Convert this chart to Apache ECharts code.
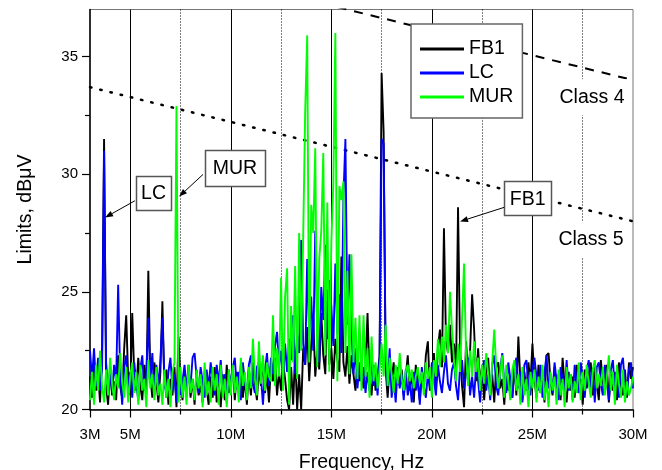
<!DOCTYPE html>
<html>
<head>
<meta charset="utf-8">
<script src="https://cdn.jsdelivr.net/npm/echarts@6.0.0/dist/echarts.min.js"></script>
<style>
html, body { margin: 0; padding: 0; background: #fff; }
#chart { width: 662px; height: 470px; }
</style>
</head>
<body>
<div id="chart"></div>
<script>
// Spectrum sampling grid (MHz)
const FREQ_START = 3.0;
const FREQ_STEP = 0.1;

// Measured emission levels, dBuV, one value per 0.1 MHz from 3.0 to 30.0 MHz
const fb1 = [
  21.4, 20.5, 22.0, 20.8, 21.6, 20.3, 22.4, 31.5, 21.0, 20.2,
  21.8, 20.6, 21.2, 20.4, 22.3, 21.0, 20.5, 22.6, 24.0, 21.3,
  20.6, 24.1, 21.5, 20.8, 22.2, 21.0, 20.4, 21.9, 20.7, 25.9,
  21.4, 20.5, 22.0, 21.2, 20.3, 21.6, 24.6, 20.9, 21.7, 20.2,
  21.3, 20.6, 21.8, 20.1, 23.1, 21.2, 20.4, 21.5, 20.8, 21.9,
  20.5, 21.3, 20.2, 21.7, 20.6, 21.0, 20.3, 21.6, 20.9, 20.2,
  21.4, 20.5, 21.8, 20.3, 21.1, 20.1, 21.5, 20.4, 21.9, 20.7,
  21.2, 21.8, 20.4, 21.6, 20.8, 21.9, 20.5, 21.3, 20.2, 21.7,
  20.6, 22.0, 21.1, 20.4, 21.8, 21.0, 22.1, 20.7, 21.5, 20.3,
  21.9, 21.2, 22.2, 20.6, 21.6, 20.8, 22.0, 21.3, 20.4, 20.0,
  21.8, 20.2, 22.4, 20.0, 21.5, 20.0, 22.6, 21.9, 23.5, 21.2,
  22.8, 23.9, 21.4, 22.5, 21.7, 24.1, 22.3, 21.5, 25.1, 21.9,
  22.6, 21.3, 23.0, 22.1, 21.6, 26.5, 22.0, 21.4, 22.7, 21.1,
  22.3, 21.5, 20.8, 22.0, 21.2, 21.6, 20.9, 21.8, 24.1, 21.3,
  20.6, 21.9, 20.8, 21.4, 22.3, 34.3, 31.8, 21.7, 20.5, 21.8,
  21.2, 22.0, 20.9, 21.6, 21.0, 21.7, 20.6, 21.4, 22.3, 20.8,
  21.6, 20.3, 21.9, 21.1, 20.4, 21.5, 20.9, 22.3, 22.9, 20.8,
  21.6, 22.4, 21.0, 22.6, 23.4, 21.8, 27.7, 23.0, 22.4, 23.6,
  22.0, 22.8, 21.5, 28.6, 22.6, 21.0, 20.1, 22.9, 21.4, 22.5,
  24.9, 23.4, 21.2, 22.6, 21.0, 21.9, 20.4, 21.7, 22.2, 20.6,
  21.5, 20.3, 21.8, 22.0, 20.9, 21.3, 20.2, 21.7, 20.8, 21.4,
  20.5, 21.9, 20.6, 23.1, 21.2, 20.4, 21.6, 20.8, 22.0, 21.1,
  22.8, 21.3, 20.5, 21.9, 20.7, 21.4, 20.3, 22.3, 22.4, 21.2,
  20.6, 21.8, 20.9, 21.5, 20.4, 22.2, 21.0, 20.3, 21.6, 20.8,
  21.4, 20.5, 21.9, 20.7, 21.3, 20.2, 21.7, 20.9, 21.5, 22.0,
  20.6, 21.8, 21.1, 20.4, 22.1, 21.2, 20.7, 21.9, 20.3, 21.5,
  20.8, 21.6, 20.4, 22.0, 21.0, 20.6, 21.7, 20.5, 22.0, 21.3,
  21.8
];

const lc = [
  22.5, 21.3, 22.6, 21.0, 22.2, 20.8, 21.7, 31.0, 22.0, 20.9,
  21.6, 20.7, 21.9, 21.2, 25.3, 21.5, 20.2, 21.8, 22.3, 20.9,
  21.6, 20.5, 22.0, 21.1, 20.4, 21.7, 22.3, 20.8, 21.5, 23.9,
  21.2, 22.4, 20.6, 21.9, 21.0, 22.1, 23.9, 21.3, 20.5, 21.6,
  22.2, 20.8, 21.5, 20.3, 21.8, 20.6, 21.2, 21.9, 20.9, 21.6,
  21.0, 22.2, 22.4, 21.4, 20.7, 21.8, 21.2, 20.5, 21.7, 20.9,
  22.0, 21.3, 20.6, 21.9, 21.1, 22.1, 20.8, 21.5, 20.3, 21.7,
  21.0, 21.8, 22.2, 20.9, 21.6, 20.4, 22.0, 21.2, 20.6, 21.9,
  22.3, 21.1, 20.7, 21.8, 22.0, 21.4, 20.2, 21.6, 22.4, 21.0,
  22.2, 21.5, 22.7, 23.3, 21.8, 22.5, 21.3, 22.8, 21.6, 23.0,
  22.1, 24.0, 21.5, 23.2, 22.4, 27.2, 22.8, 21.9, 26.4, 23.1,
  24.8, 22.5, 27.6, 23.4, 22.0, 25.2, 23.8, 27.0, 23.0, 25.5,
  24.4, 22.7, 26.2, 23.2, 24.9, 22.4, 29.0, 31.5, 23.6, 26.6,
  23.4, 21.5, 22.6, 20.9, 22.0, 21.2, 21.8, 20.7, 21.6, 20.8,
  22.1, 21.0, 21.7, 20.6, 22.2, 31.5, 31.3, 22.4, 21.0, 22.6,
  20.5, 21.4, 20.3, 21.8, 20.9, 21.5, 20.4, 21.7, 20.6, 21.2,
  20.3, 21.6, 20.8, 21.4, 20.2, 21.8, 21.0, 20.5, 21.5, 20.9,
  22.0, 21.3, 20.6, 21.9, 21.2, 20.7, 21.6, 22.3, 21.1, 20.8,
  21.7, 22.0, 21.0, 20.4, 21.8, 22.1, 20.9, 21.5, 22.2, 20.6,
  21.4, 20.5, 21.9, 21.2, 20.3, 21.6, 22.1, 20.8, 21.5, 20.4,
  21.9, 22.3, 21.0, 20.6, 21.7, 22.4, 21.1, 20.7, 22.0, 21.3,
  20.5, 21.8, 22.2, 20.9, 21.6, 20.3, 21.9, 22.1, 21.0, 20.6,
  21.7, 22.2, 21.4, 20.8, 21.9, 20.5, 21.6, 22.3, 20.9, 21.5,
  20.7, 22.0, 21.2, 20.4, 21.8, 21.3, 20.6, 22.1, 20.8, 21.5,
  20.4, 21.9, 21.1, 20.7, 22.0, 21.4, 20.5, 21.7, 22.1, 20.9,
  21.6, 20.3, 21.8, 22.0, 21.1, 20.6, 21.9, 21.2, 20.4, 21.7,
  22.1, 20.8, 21.5, 20.5, 21.9, 22.2, 21.0, 20.6, 21.7, 22.0,
  20.9
];

const mur = [
  20.4, 21.6, 20.2, 21.9, 20.8, 22.5, 21.0, 20.3, 21.7, 20.6,
  22.2, 21.1, 20.4, 21.5, 20.9, 22.4, 21.2, 20.5, 21.8, 20.3,
  21.4, 22.0, 20.7, 21.6, 20.2, 21.9, 20.8, 21.3, 20.1, 22.1,
  20.9, 21.5, 20.4, 21.8, 20.6, 21.1, 20.2, 21.7, 20.5, 21.3,
  20.1, 21.6, 22.0, 32.9, 20.3, 21.8, 20.5, 21.4, 20.2, 21.9,
  20.7, 21.3, 20.4, 21.7, 20.9, 21.5, 20.1, 22.0, 20.6, 21.2,
  20.3, 21.8, 20.8, 21.5, 20.2, 21.9, 20.5, 21.3, 20.1, 21.7,
  20.6, 21.9, 20.7, 21.4, 20.3, 22.2, 21.0, 21.6, 20.4, 21.8,
  20.9, 23.0, 21.3, 20.6, 22.9, 21.1, 22.3, 20.8, 22.0, 21.4,
  21.2, 24.0, 21.0, 22.6, 21.4, 25.6, 20.8, 24.8, 26.0, 20.2,
  24.4, 22.0, 26.1, 21.3, 27.5, 22.5, 27.3, 32.7, 35.9, 22.0,
  28.7, 27.5, 31.1, 21.8, 26.4, 27.6, 30.9, 22.3, 28.8, 21.6,
  27.1, 29.6, 36.0, 21.2, 29.5, 28.9, 29.7, 22.4, 25.9, 21.5,
  26.6, 22.0, 23.9, 21.3, 24.0, 20.8, 24.0, 21.4, 22.6, 20.5,
  23.1, 21.2, 22.0, 20.9, 21.7, 22.8, 21.4, 23.6, 21.0, 22.2,
  21.5, 20.7, 21.9, 21.1, 22.4, 21.3, 20.8, 21.6, 21.9, 21.2,
  21.7, 20.9, 21.4, 21.8, 21.1, 21.6, 20.6, 22.0, 21.3, 21.8,
  20.5, 22.1, 21.4, 23.0, 21.8, 23.1, 22.0, 23.6, 22.4, 25.0,
  23.4, 22.1, 21.2, 22.8, 21.6, 23.9, 26.2, 22.3, 21.0, 22.5,
  21.4, 22.9, 21.6, 22.2, 20.8, 21.9, 21.1, 22.4, 21.5, 20.6,
  22.0, 23.4, 21.8, 20.9, 21.6, 22.3, 20.5, 21.9, 21.2, 20.4,
  21.7, 22.1, 20.8, 21.5, 20.2, 21.8, 20.6, 21.3, 20.1, 21.6,
  20.9, 21.7, 20.3, 21.4, 20.7, 21.9, 20.4, 21.2, 20.1, 21.6,
  20.8, 21.4, 20.2, 21.7, 20.6, 21.3, 20.1, 21.8, 20.9, 21.5,
  20.3, 21.2, 20.7, 22.0, 20.4, 21.6, 20.8, 21.9, 21.1, 20.5,
  21.7, 22.1, 20.9, 21.5, 21.0, 21.8, 20.6, 21.4, 22.3, 20.8,
  21.6, 20.2, 21.9, 21.1, 20.5, 21.7, 20.3, 21.2, 20.6, 20.9,
  21.4
];

// Limit lines [MHz, dBuV]
const class4Limit = [[3, 39.7], [30, 34.0]];
const class5Limit = [[3, 33.7], [30, 28.0]];

// Axis ticks and grid lines
const xMajorTicks = [3, 5, 10, 15, 20, 25, 30];
const xMinorTicks = [7.5, 12.5, 17.5, 22.5, 27.5];
const yMajorTicks = [20, 25, 30, 35];
const yMinorTicks = [22.5, 27.5, 32.5];
const solidGridLines = [5, 10, 15, 20, 25];
const dottedGridLines = [7.5, 12.5, 17.5, 22.5, 27.5];

// Callouts: text, box centre, arrow start, arrow tip, box size (px)
const callouts = [
  { text: 'LC',  center: [6.16, 29.22],  from: [5.23, 28.87],  tip: [3.75, 28.16], w: 35, h: 34 },
  { text: 'MUR', center: [10.21, 30.27], from: [8.62, 29.99],  tip: [7.43, 29.05], w: 60, h: 36 },
  { text: 'FB1', center: [24.76, 28.97], from: [23.59, 28.59], tip: [21.40, 27.99], w: 47, h: 34 }
];
const limitLabels = [
  { text: 'Class 4', at: [27.96, 33.27] },
  { text: 'Class 5', at: [27.91, 27.21] }
];

const FONT = '"Liberation Sans", Arial, Helvetica, sans-serif';
const BIG = 19.5;

function toPairs(values) {
  return values.map((v, i) => [Math.round((FREQ_START + FREQ_STEP * i) * 100) / 100, v]);
}

const chart = echarts.init(document.getElementById('chart'), null, { renderer: 'canvas' });

const gridMarkLines = solidGridLines.map(x => ({
  xAxis: x, lineStyle: { color: '#000', width: 1, type: 'solid' }
})).concat(dottedGridLines.map(x => ({
  xAxis: x, lineStyle: { color: '#000', width: 1, type: [1, 2] }
})));

const tickStyle = { color: '#000', width: 1.2 };

chart.setOption({
  animation: false,
  textStyle: { fontFamily: FONT },
  grid: {
    left: 90, right: 29, top: 9.5, bottom: 60.5,
    outerBoundsMode: 'none', containLabel: false,
    show: true, borderColor: '#777', borderWidth: 1, backgroundColor: '#fff'
  },
  legend: {
    data: ['FB1', 'LC', 'MUR'],
    orient: 'vertical',
    left: 411, top: 24,
    padding: [15, 9, 11, 9],
    icon: 'rect',
    itemWidth: 44, itemHeight: 3, itemGap: 4,
    backgroundColor: '#fff',
    borderColor: '#666', borderWidth: 1.5, borderRadius: 0,
    textStyle: { fontSize: BIG, color: '#000', fontFamily: FONT },
    selectedMode: false
  },
  xAxis: [{
    type: 'value', min: 3, max: 30,
    name: 'Frequency, Hz', nameLocation: 'middle', nameGap: 43,
    nameTextStyle: { fontSize: BIG, color: '#000', fontFamily: FONT },
    axisLine: { show: true, lineStyle: { color: '#000', width: 1.5 } },
    axisTick: { show: true, customValues: xMajorTicks, length: 8, lineStyle: tickStyle },
    axisLabel: { customValues: xMajorTicks, formatter: v => v + 'M', fontSize: 15, color: '#000', margin: 18 },
    splitLine: { show: false }
  }, {
    type: 'value', min: 3, max: 30, position: 'bottom',
    axisLine: { show: false },
    axisTick: { show: true, customValues: xMinorTicks, length: 5, lineStyle: tickStyle },
    axisLabel: { show: false },
    splitLine: { show: false }
  }],
  yAxis: [{
    type: 'value', min: 20, max: 37,
    name: 'Limits, dBμV', nameLocation: 'middle', nameGap: 54,
    nameTextStyle: { fontSize: BIG, color: '#000', fontFamily: FONT },
    axisLine: { show: true, lineStyle: { color: '#000', width: 1.5 } },
    axisTick: { show: true, customValues: yMajorTicks, length: 8, lineStyle: tickStyle },
    axisLabel: { customValues: yMajorTicks, fontSize: 15, color: '#000', margin: 12 },
    splitLine: { show: false }
  }, {
    type: 'value', min: 20, max: 37, position: 'left',
    axisLine: { show: false },
    axisTick: { show: true, customValues: yMinorTicks, length: 5, lineStyle: tickStyle },
    axisLabel: { show: false },
    splitLine: { show: false }
  }],
  series: [
    {
      name: 'grid', type: 'line', data: [], silent: true, z: 1,
      markLine: {
        z: 1, silent: true, symbol: 'none', animation: false,
        label: { show: false }, emphasis: { disabled: true },
        data: gridMarkLines
      }
    },
    {
      name: 'Class 4', type: 'line', data: class4Limit, symbol: 'none', silent: true, z: 2,
      lineStyle: { color: '#000', width: 2, type: [9, 8] }
    },
    {
      name: 'Class 5', type: 'line', data: class5Limit, symbol: 'none', silent: true, z: 2,
      lineStyle: { color: '#000', width: 2.5, type: [1.5, 9], cap: 'round' }
    },
    {
      name: 'FB1', type: 'line', data: toPairs(fb1), symbol: 'none', z: 3,
      lineStyle: { color: '#000000', width: 1.9 }, itemStyle: { color: '#000000' }
    },
    {
      name: 'LC', type: 'line', data: toPairs(lc), symbol: 'none', z: 4,
      lineStyle: { color: '#0000FF', width: 1.9 }, itemStyle: { color: '#0000FF' }
    },
    {
      name: 'MUR', type: 'line', data: toPairs(mur), symbol: 'none', z: 5,
      lineStyle: { color: '#00FF00', width: 1.9 }, itemStyle: { color: '#00FF00' }
    }
  ]
});

// Callout boxes, arrows and limit-line captions, placed in data coordinates
function px(p) { return chart.convertToPixel({ gridIndex: 0 }, p); }

const graphics = [];
callouts.forEach(c => {
  const ctr = px(c.center), a = px(c.from), t = px(c.tip);
  graphics.push({
    type: 'rect', z: 50,
    shape: { x: Math.round(ctr[0] - c.w / 2) + 0.5, y: Math.round(ctr[1] - c.h / 2) + 0.5, width: c.w, height: c.h },
    style: { fill: '#fff', stroke: '#555', lineWidth: 1.5 }
  });
  graphics.push({
    type: 'text', z: 51, x: ctr[0], y: ctr[1] + 1,
    style: { text: c.text, fontSize: BIG, fontFamily: FONT, fill: '#000', align: 'center', verticalAlign: 'middle' }
  });
  const dx = t[0] - a[0], dy = t[1] - a[1], len = Math.hypot(dx, dy);
  const ux = dx / len, uy = dy / len, hl = 8, hw = 3;
  const bx = t[0] - ux * hl, by = t[1] - uy * hl;
  graphics.push({
    type: 'line', z: 50,
    shape: { x1: a[0], y1: a[1], x2: bx, y2: by },
    style: { stroke: '#000', lineWidth: 1 }
  });
  graphics.push({
    type: 'polygon', z: 50,
    shape: { points: [[t[0], t[1]], [bx - uy * hw, by + ux * hw], [bx + uy * hw, by - ux * hw]] },
    style: { fill: '#000' }
  });
});
limitLabels.forEach(l => {
  const p = px(l.at);
  graphics.push({
    type: 'text', z: 40, x: p[0], y: p[1],
    style: {
      text: l.text, fontSize: BIG, fontFamily: FONT, fill: '#000',
      align: 'center', verticalAlign: 'middle',
      backgroundColor: '#fff', padding: [8, 3]
    }
  });
});
chart.setOption({ graphic: graphics });
</script>
</body>
</html>
